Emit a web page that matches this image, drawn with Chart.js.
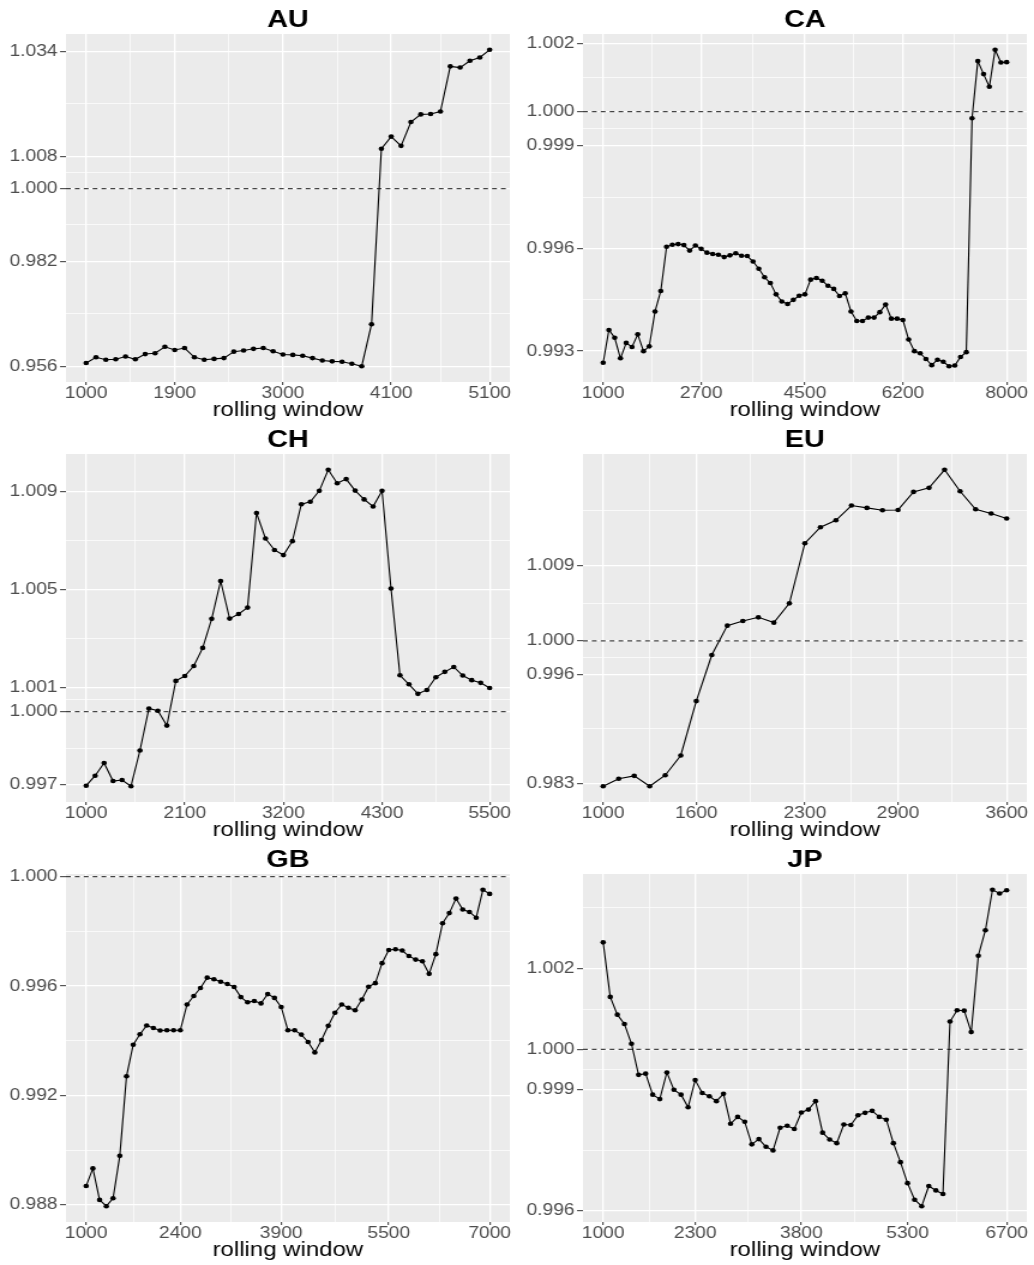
<!DOCTYPE html>
<html>
<head>
<meta charset="utf-8">
<title>Rolling window ratios</title>
<script src="https://cdn.jsdelivr.net/npm/chart.js@4.4.1/dist/chart.umd.min.js"></script>
<style>
  html, body { margin: 0; padding: 0; background: #ffffff; overflow: hidden; }
  #grid { position: relative; width: 1034px; height: 1265px; }
  #grid canvas { position: absolute; }
</style>
</head>
<body>
<div id="grid"></div>
<script>
// ---- data ---------------------------------------------------------------
// rolling window sizes shared by every panel (each panel uses its first N)
const rollingWindow = [
  1000, 1100, 1200, 1300, 1400, 1500, 1600, 1700, 1800, 1900,
  2000, 2100, 2200, 2300, 2400, 2500, 2600, 2700, 2800, 2900,
  3000, 3100, 3200, 3300, 3400, 3500, 3600, 3700, 3800, 3900,
  4000, 4100, 4200, 4300, 4400, 4500, 4600, 4700, 4800, 4900,
  5000, 5100, 5200, 5300, 5400, 5500, 5600, 5700, 5800, 5900,
  6000, 6100, 6200, 6300, 6400, 6500, 6600, 6700, 6800, 6900,
  7000, 7100, 7200, 7300, 7400, 7500, 7600, 7700, 7800, 7900,
  8000
];

const auRatio = [
  0.9568, 0.9582, 0.9576, 0.9577, 0.9584, 0.9577, 0.9590, 0.9592, 0.9608, 0.9600,
  0.9605, 0.9582, 0.9576, 0.9578, 0.9580, 0.9596, 0.9599, 0.9603, 0.9605, 0.9597,
  0.9589, 0.9588, 0.9586, 0.9580, 0.9574, 0.9572, 0.9571, 0.9566, 0.9560, 0.9664,
  1.0099, 1.0129, 1.0106, 1.0165, 1.0184, 1.0185, 1.0191, 1.0303, 1.0300, 1.0317,
  1.0325, 1.0344
];
const caRatio = [
  0.99266, 0.99362, 0.99339, 0.99279, 0.99324, 0.99312, 0.99349, 0.99300, 0.99314, 0.99416,
  0.99476, 0.99605, 0.99611, 0.99613, 0.99610, 0.99594, 0.99609, 0.99599, 0.99588, 0.99584,
  0.99582, 0.99575, 0.99580, 0.99586, 0.99579, 0.99578, 0.99562, 0.99541, 0.99516, 0.99499,
  0.99466, 0.99445, 0.99438, 0.99450, 0.99462, 0.99466, 0.99509, 0.99514, 0.99506, 0.99491,
  0.99482, 0.99461, 0.99469, 0.99416, 0.99388, 0.99388, 0.99398, 0.99398, 0.99414, 0.99436,
  0.99395, 0.99395, 0.99391, 0.99334, 0.99300, 0.99294, 0.99277, 0.99259, 0.99275, 0.99269,
  0.99256, 0.99258, 0.99283, 0.99297, 0.99981, 1.00148, 1.00110, 1.00073, 1.00181, 1.00144,
  1.00145
];
const chRatio = [
  0.99697, 0.99738, 0.99790, 0.99716, 0.99720, 0.99695, 0.99841, 1.00013, 1.00004, 0.99943,
  1.00126, 1.00146, 1.00187, 1.00261, 1.00380, 1.00535, 1.00381, 1.00400, 1.00426, 1.00813,
  1.00709, 1.00662, 1.00641, 1.00698, 1.00849, 1.00859, 1.00904, 1.00990, 1.00935, 1.00952,
  1.00905, 1.00869, 1.00840, 1.00904, 1.00504, 1.00149, 1.00112, 1.00073, 1.00089, 1.00141,
  1.00163, 1.00183, 1.00148, 1.00129, 1.00118, 1.00097
];
const euRatio = [
  0.98268, 0.98356, 0.98391, 0.98268, 0.98399, 0.98634, 0.99282, 0.99831, 1.00181, 1.00236,
  1.00280, 1.00217, 1.00447, 1.01163, 1.01354, 1.01437, 1.01612, 1.01584, 1.01556, 1.01560,
  1.01775, 1.01823, 1.02038, 1.01783, 1.01568, 1.01517, 1.01457
];
const gbRatio = [
  0.98870, 0.98934, 0.98819, 0.98796, 0.98825, 0.98980, 0.99271, 0.99386, 0.99424, 0.99456,
  0.99447, 0.99438, 0.99439, 0.99439, 0.99439, 0.99533, 0.99564, 0.99593, 0.99631, 0.99625,
  0.99616, 0.99608, 0.99597, 0.99560, 0.99541, 0.99546, 0.99537, 0.99571, 0.99557, 0.99524,
  0.99439, 0.99439, 0.99423, 0.99396, 0.99358, 0.99403, 0.99455, 0.99503, 0.99533, 0.99521,
  0.99512, 0.99551, 0.99598, 0.99611, 0.99684, 0.99732, 0.99735, 0.99730, 0.99710, 0.99697,
  0.99691, 0.99645, 0.99717, 0.99830, 0.99867, 0.99920, 0.99880, 0.99871, 0.99850, 0.99952,
  0.99937
];
const jpRatio = [
  1.00265, 1.00130, 1.00086, 1.00063, 1.00014, 0.99937, 0.99940, 0.99888, 0.99877, 0.99943,
  0.99900, 0.99888, 0.99857, 0.99924, 0.99892, 0.99884, 0.99872, 0.99890, 0.99816, 0.99833,
  0.99821, 0.99765, 0.99778, 0.99759, 0.99750, 0.99806, 0.99811, 0.99803, 0.99844, 0.99851,
  0.99872, 0.99794, 0.99777, 0.99768, 0.99814, 0.99813, 0.99837, 0.99843, 0.99848, 0.99833,
  0.99826, 0.99768, 0.99721, 0.99669, 0.99628, 0.99612, 0.99662, 0.99651, 0.99642, 1.00069,
  1.00097, 1.00096, 1.00043, 1.00232, 1.00295, 1.00395, 1.00386, 1.00394
];

// axis breaks (labelled) and the minor grid lines between them
const auYTicks = [0.956, 0.982, 1.000, 1.008, 1.034];
const auYMinor = [0.969, 0.991, 1.004, 1.021];
const auXTicks = [1000, 1900, 3000, 4100, 5100];
const auXMinor = [1450, 2450, 3550, 4600];

const caYTicks = [0.993, 0.996, 0.999, 1.000, 1.002];
const caYMinor = [0.9945, 0.9975, 0.9995, 1.001];
const caXTicks = [1000, 2700, 4500, 6200, 8000];
const caXMinor = [1850, 3600, 5350, 7100];

const chYTicks = [0.997, 1.000, 1.001, 1.005, 1.009];
const chYMinor = [0.9985, 1.0005, 1.003, 1.007];
const chXTicks = [1000, 2100, 3200, 4300, 5500];
const chXMinor = [1550, 2650, 3750, 4900];

const euYTicks = [0.983, 0.996, 1.000, 1.009];
const euYMinor = [0.9895, 0.998, 1.0045, 1.0155];
const euXTicks = [1000, 1600, 2300, 2900, 3600];
const euXMinor = [1300, 1950, 2600, 3250];

const gbYTicks = [0.988, 0.992, 0.996, 1.000];
const gbYMinor = [0.990, 0.994, 0.998];
const gbXTicks = [1000, 2400, 3900, 5500, 7000];
const gbXMinor = [1700, 3150, 4700, 6250];

const jpYTicks = [0.996, 0.999, 1.000, 1.002];
const jpYMinor = [0.9975, 0.9995, 1.001, 1.0035];
const jpXTicks = [1000, 2300, 3800, 5300, 6700];
const jpXMinor = [1650, 3050, 4550, 6000];

const refValue = 1.000;
const xTitle = 'rolling window';

// ---- panels -------------------------------------------------------------
const panels = [
  { title: 'AU', ratio: auRatio, yTicks: auYTicks, yMinor: auYMinor, xTicks: auXTicks, xMinor: auXMinor },
  { title: 'CA', ratio: caRatio, yTicks: caYTicks, yMinor: caYMinor, xTicks: caXTicks, xMinor: caXMinor },
  { title: 'CH', ratio: chRatio, yTicks: chYTicks, yMinor: chYMinor, xTicks: chXTicks, xMinor: chXMinor },
  { title: 'EU', ratio: euRatio, yTicks: euYTicks, yMinor: euYMinor, xTicks: euXTicks, xMinor: euXMinor },
  { title: 'GB', ratio: gbRatio, yTicks: gbYTicks, yMinor: gbYMinor, xTicks: gbXTicks, xMinor: gbXMinor },
  { title: 'JP', ratio: jpRatio, yTicks: jpYTicks, yMinor: jpYMinor, xTicks: jpXTicks, xMinor: jpXMinor }
];

// ---- look ---------------------------------------------------------------
const FONT = "'Liberation Sans', Arial, Helvetica, sans-serif";
const PANEL_BG = '#EBEBEB';
const GRID = '#FFFFFF';
const TICK_TEXT = '#4D4D4D';
const TICK_MARK = '#333333';
// panels are laid out on a narrower canvas and widened with CSS,
// which gives the broad lettering of the figure
const CELL_W = 517, CELL_H = 420, CANVAS_H = 432;
const WIDEN = 1.2;
const INNER_W = Math.round(CELL_W / WIDEN);

Chart.defaults.font.family = FONT;
Chart.defaults.animation = false;

const near = (a, b) => Math.abs(a - b) < 1e-9;
const isIn = (list, v) => list.some(m => near(m, v));

// ggplot-like 5% expansion of the data range
function expanded(values) {
  const lo = Math.min(...values), hi = Math.max(...values);
  const pad = (hi - lo) * 0.05;
  return { min: lo - pad, max: hi + pad };
}

const panelBackground = {
  id: 'panelBackground',
  beforeDraw(chart) {
    const { ctx, chartArea: a } = chart;
    ctx.save();
    ctx.fillStyle = PANEL_BG;
    ctx.fillRect(a.left, a.top, a.right - a.left, a.bottom - a.top);
    ctx.restore();
  }
};

const referenceLine = {
  id: 'referenceLine',
  beforeDatasetsDraw(chart) {
    const { ctx, chartArea: a } = chart;
    const ys = chart.scales.y;
    if (refValue < ys.min || refValue > ys.max) return;
    const y = ys.getPixelForValue(refValue);
    ctx.save();
    ctx.strokeStyle = '#444444';
    ctx.lineWidth = 1.2;
    ctx.setLineDash([4, 3.4]);
    ctx.beginPath();
    ctx.moveTo(a.left, y);
    ctx.lineTo(a.right, y);
    ctx.stroke();
    ctx.restore();
  }
};

function axisOptions(major, minor, range, labelFmt) {
  return {
    type: 'linear',
    min: range.min,
    max: range.max,
    bounds: 'data',
    border: { display: false },
    grid: {
      color: GRID,
      lineWidth: c => (c.tick && isIn(major, c.tick.value)) ? 1.35 : 0.7,
      tickColor: c => (c.tick && isIn(major, c.tick.value)) ? TICK_MARK : 'rgba(0,0,0,0)',
      tickWidth: 1,
      drawTicks: true
    },
    ticks: {
      autoSkip: false,
      maxRotation: 0,
      minRotation: 0,
      color: TICK_TEXT,
      font: { family: FONT, size: 16, lineHeight: 1 },
      callback: v => isIn(major, v) ? labelFmt(v) : ''
    },
    afterBuildTicks: scale => {
      scale.ticks = major.concat(minor)
        .filter(v => v >= range.min && v <= range.max)
        .sort((p, q) => p - q)
        .map(v => ({ value: v }));
    }
  };
}

function drawPanel(panel, index) {
  const col = index % 2, row = Math.floor(index / 2);
  const canvas = document.createElement('canvas');
  canvas.width = INNER_W;
  canvas.height = CANVAS_H;
  canvas.style.width = CELL_W + 'px';
  canvas.style.height = CANVAS_H + 'px';
  canvas.style.left = (col * CELL_W) + 'px';
  canvas.style.top = (row * CELL_H) + 'px';
  document.getElementById('grid').appendChild(canvas);

  const xs = rollingWindow.slice(0, panel.ratio.length);
  const points = xs.map((x, i) => ({ x: x, y: panel.ratio[i] }));

  const xAxis = axisOptions(panel.xTicks, panel.xMinor, expanded(xs), v => String(Math.round(v)));
  xAxis.position = 'bottom';
  xAxis.grid.tickLength = 3;
  xAxis.ticks.padding = 0.5;
  xAxis.title = {
    display: true,
    text: xTitle,
    color: '#000000',
    font: { family: FONT, size: 20, lineHeight: 1 },
    padding: { top: 0, bottom: 0 }
  };
  xAxis.afterFit = scale => { scale.height = 38; };

  const yAxis = axisOptions(panel.yTicks, panel.yMinor, expanded(panel.ratio), v => v.toFixed(3));
  yAxis.position = 'left';
  yAxis.grid.tickLength = 5;
  yAxis.ticks.padding = 2;
  yAxis.afterFit = scale => { scale.width = 55; };

  new Chart(canvas, {
    type: 'line',
    data: {
      datasets: [{
        data: points,
        borderColor: '#000000',
        borderWidth: 1.1,
        tension: 0,
        pointRadius: 2.3,
        pointHoverRadius: 2.3,
        pointBorderWidth: 0,
        pointBackgroundColor: '#000000'
      }]
    },
    options: {
      responsive: false,
      devicePixelRatio: 1,
      parsing: false,
      layout: { padding: { left: 0, right: 6, top: 0, bottom: CANVAS_H - CELL_H } },
      plugins: {
        legend: { display: false },
        tooltip: { enabled: false },
        title: {
          display: true,
          text: panel.title,
          fullSize: false,
          color: '#000000',
          font: { family: FONT, size: 24, weight: 'bold', lineHeight: 1 },
          padding: { top: 8, bottom: 2 }
        }
      },
      scales: { x: xAxis, y: yAxis }
    },
    plugins: [panelBackground, referenceLine]
  });
}

panels.forEach(drawPanel);
</script>
</body>
</html>
